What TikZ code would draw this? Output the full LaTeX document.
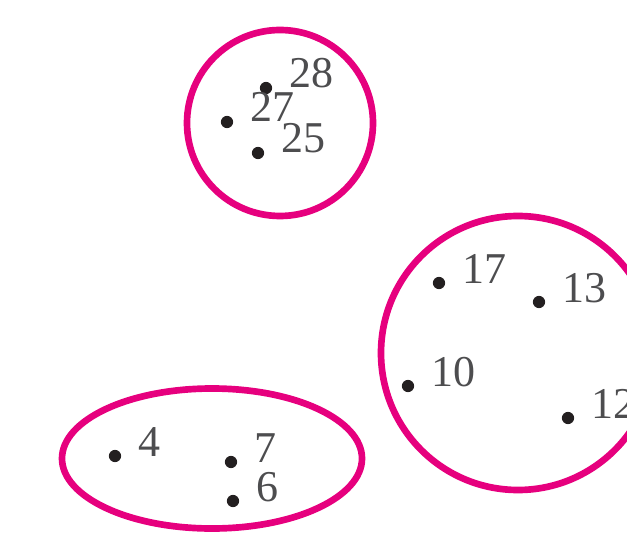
\documentclass[tikz,border=0pt]{standalone}
\usepackage{xcolor}
\usepackage{fontspec}
\setmainfont{Liberation Serif}
\usepackage{tikz}
\definecolor{grpink}{HTML}{E6007E}
\definecolor{grtext}{HTML}{4D4D4F}
\definecolor{grdot}{HTML}{231F20}

\begin{document}
\begin{tikzpicture}[x=0.75pt, y=-0.75pt,
  pt/.style={circle, fill=grdot, inner sep=0pt, minimum size=9.2pt},
  lab/.style={anchor=base west, text=grtext, inner sep=0pt,
    font=\fontsize{33}{33}\selectfont},
  grp/.style={grpink, line width=5pt}]
\useasboundingbox (0,0) rectangle (627,534);
% groups
\draw[grp] (280,123) circle[radius=69.75pt];
\draw[grp] (518,353) circle[radius=102.75pt];
\draw[grp] (212,458.5) ellipse[x radius=112.5pt, y radius=52.5pt];
% points and their numbers
\foreach \n/\x/\y in {28/266/88, 27/227/122, 25/258/153,
    17/439/283, 13/539/302, 10/408/386, 12/568/418,
    4/115/456, 7/231/462, 6/233/501}
  \node[pt] (p\n) at (\x,\y) {};
\foreach \n in {28, 27, 25, 17, 13, 10, 12, 4, 7, 6}
  \node[lab] (l\n) at ([xshift=17.5pt]p\n.center) {\n};
\end{tikzpicture}
\end{document}
